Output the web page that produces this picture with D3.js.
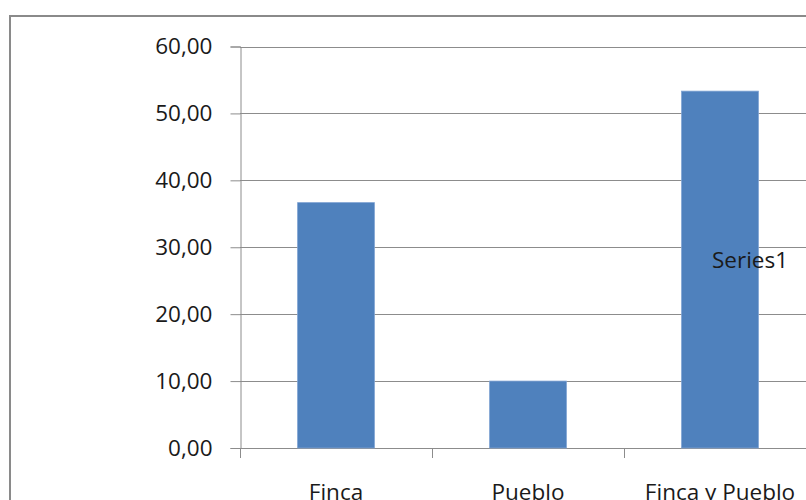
<!DOCTYPE html>
<html>
<head>
<meta charset="utf-8">
<script src="https://cdn.jsdelivr.net/npm/d3@7"></script>
<style>
  html, body { margin: 0; padding: 0; background: #fff; overflow: hidden; }
  svg { display: block; }
  text { font-family: "Open Sans", "DejaVu Sans", sans-serif; fill: #1a1a1a; }
</style>
</head>
<body>
<svg id="chart" width="806" height="500"></svg>
<script>
// Categories and values of the single series
const categories = ["Finca", "Pueblo", "Finca y Pueblo"];
const values = [36.67, 10.00, 53.33];
const yTicks = [0, 10, 20, 30, 40, 50, 60];
const seriesName = "Series1";

const svg = d3.select("#chart");
const fontSize = "22.5px";

// Chart area frame
svg.append("rect")
  .attr("x", 10).attr("y", 16)
  .attr("width", 820).attr("height", 520)
  .attr("fill", "none")
  .attr("stroke", "#8a8a8a")
  .attr("stroke-width", 2);

const plot = { left: 240, right: 816, top: 46.5, bottom: 448 };

const x = d3.scaleBand()
  .domain(categories)
  .range([plot.left, plot.right])
  .paddingInner(0.6)
  .paddingOuter(0.3);

const y = d3.scaleLinear()
  .domain([0, 60])
  .range([plot.bottom, plot.top]);

const fmt = v => d3.format(".2f")(v).replace(".", ",");

// Horizontal gridlines
svg.append("g")
  .selectAll("line")
  .data(yTicks)
  .join("line")
  .attr("x1", plot.left).attr("x2", 806)
  .attr("y1", d => Math.round(y(d)) + 0.5)
  .attr("y2", d => Math.round(y(d)) + 0.5)
  .attr("stroke", "#8c8c8c")
  .attr("stroke-width", 1);

// Y axis
const yAxis = svg.append("g")
  .attr("transform", `translate(${plot.left + 0.5},0)`)
  .call(d3.axisLeft(y).tickValues(yTicks).tickFormat(fmt).tickSize(10).tickPadding(18));
yAxis.select(".domain").attr("stroke", "#8c8c8c");
yAxis.selectAll(".tick line").attr("stroke", "#8c8c8c");
yAxis.selectAll(".tick text")
  .attr("font-size", fontSize)
  .attr("fill", "#1a1a1a")
  .style("font-family", "'Open Sans', sans-serif");

// X axis with tick marks at category boundaries
const boundaries = [plot.left, plot.left + x.step() * 1, plot.left + x.step() * 2, plot.right];
svg.append("g")
  .selectAll("line")
  .data(boundaries)
  .join("line")
  .attr("x1", d => Math.round(d) + 0.5).attr("x2", d => Math.round(d) + 0.5)
  .attr("y1", plot.bottom).attr("y2", plot.bottom + 10)
  .attr("stroke", "#8c8c8c");

svg.append("g")
  .selectAll("text")
  .data(categories)
  .join("text")
  .attr("x", d => x(d) + x.bandwidth() / 2)
  .attr("y", 500)
  .attr("text-anchor", "middle")
  .attr("font-size", fontSize)
  .text(d => d);

// Bars
svg.append("g")
  .selectAll("rect")
  .data(values)
  .join("rect")
  .attr("x", (d, i) => x(categories[i]))
  .attr("y", d => y(d))
  .attr("width", x.bandwidth())
  .attr("height", d => y(0) - y(d))
  .attr("fill", "#4f81bd")
  .attr("stroke", "#7fa3d3")
  .attr("stroke-width", 0.8);

// Series legend
svg.append("text")
  .attr("x", 712)
  .attr("y", 268)
  .attr("font-size", fontSize)
  .text(seriesName);
</script>
</body>
</html>
